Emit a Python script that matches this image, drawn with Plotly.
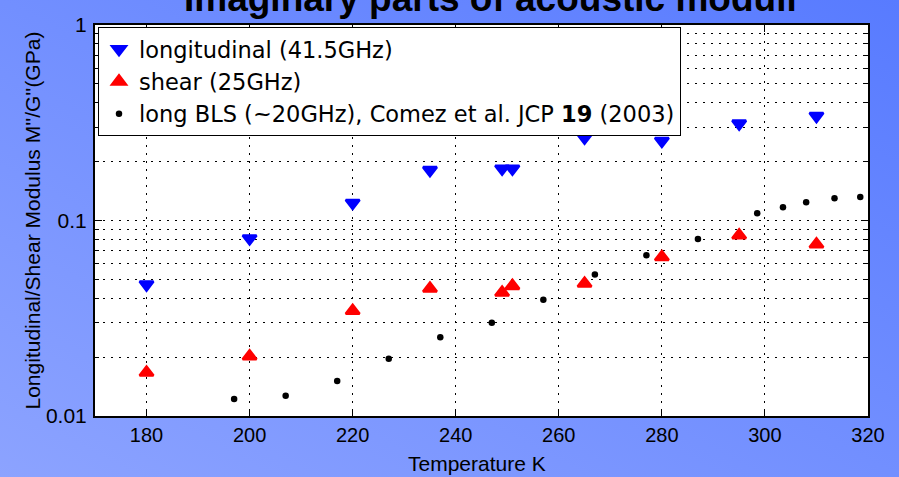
import base64
import plotly.graph_objects as go

# ---- data ----
T_long = [180, 200, 220, 235, 249, 251, 265, 280, 295, 310]
M_long = [0.047, 0.081, 0.123, 0.181, 0.184, 0.184, 0.265, 0.255, 0.313, 0.342]

T_shear = [180, 200, 220, 235, 249, 251, 265, 280, 295, 310]
G_shear = [0.0167, 0.0202, 0.0345, 0.0449, 0.0428, 0.0463, 0.0476, 0.065, 0.084, 0.0756]

T_bls = [197, 207, 217, 227, 237, 247, 257, 267, 277, 287, 298.5, 303.5, 308, 313.5, 318.5]
M_bls = [0.0122, 0.0127, 0.0151, 0.0196, 0.0253, 0.0300, 0.0393, 0.053, 0.0664, 0.0805,
         0.109, 0.117, 0.124, 0.130, 0.132]

x_ticks = [180, 200, 220, 240, 260, 280, 300, 320]
y_ticks = [0.01, 0.1, 1]
y_ticktext = ["0.01", "0.1", "1"]
y_minor = [0.02, 0.03, 0.04, 0.05, 0.06, 0.07, 0.08, 0.09,
           0.2, 0.3, 0.4, 0.5, 0.6, 0.7, 0.8, 0.9]

W, H = 899, 477
ML, MR, MT, MB = 95, 31, 25, 61
PW, PH = W - ML - MR, H - MT - MB

FONT = "Liberation Sans, Arial, sans-serif"

fig = go.Figure()
fig.add_trace(go.Scatter(
    x=T_long, y=M_long, mode="markers", name="longitudinal (41.5GHz)",
    marker=dict(symbol="triangle-down", size=12, color="#0000ff",
                line=dict(color="#0000ff", width=2.5))))
fig.add_trace(go.Scatter(
    x=T_shear, y=G_shear, mode="markers", name="shear (25GHz)",
    marker=dict(symbol="triangle-up", size=12, color="#ff0000",
                line=dict(color="#ff0000", width=2.5))))
fig.add_trace(go.Scatter(
    x=T_bls, y=M_bls, mode="markers",
    name="long BLS (~20GHz), Comez et al. JCP <b>19</b> (2003)",
    marker=dict(symbol="circle", size=6.5, color="#000000")))

# gradient slide background as an inline SVG image
svg = ('<svg xmlns="http://www.w3.org/2000/svg" width="899" height="477" '
       'preserveAspectRatio="none" viewBox="0 0 899 477">'
       '<defs><linearGradient id="g" x1="0" y1="1" x2="1" y2="0">'
       '<stop offset="0" stop-color="#8ca3ff"/>'
       '<stop offset="1" stop-color="#587bff"/>'
       '</linearGradient></defs>'
       '<rect width="899" height="477" fill="url(#g)"/></svg>')
src = "data:image/svg+xml;base64," + base64.b64encode(svg.encode()).decode()

grid_dash = "2px,6px"

fig.update_layout(
    width=W, height=H,
    margin=dict(l=ML, r=MR, t=MT, b=MB, pad=0),
    paper_bgcolor="#7390fe",
    plot_bgcolor="white",
    font=dict(family=FONT, size=20, color="black"),
    showlegend=True,
    legend=dict(x=3 / PW, y=1 - 2 / PH, xanchor="left", yanchor="top",
                bgcolor="white", bordercolor="black", borderwidth=1,
                font=dict(family="DejaVu Sans, sans-serif", size=22.5, color="black"),
                itemsizing="trace"),
    images=[dict(source=src, xref="paper", yref="paper",
                 x=-ML / PW, y=(PH + MT) / PH, sizex=W / PW, sizey=H / PH,
                 xanchor="left", yanchor="top", sizing="stretch", layer="below")],
    shapes=[dict(type="rect", xref="paper", yref="paper", x0=0, x1=1, y0=0, y1=1,
                 fillcolor="white", line=dict(width=0), layer="below")],
    annotations=[
        dict(text="<b>Imaginary parts of acoustic moduli</b>", xref="paper", yref="paper",
             x=(490 - ML) / PW, y=1 + 27 / PH, xanchor="center", yanchor="middle",
             showarrow=False, font=dict(family=FONT, size=37, color="black")),
        dict(text="Longitudinal/Shear Modulus M''/G''(GPa)", xref="paper", yref="paper",
             x=(32 - ML) / PW, y=0.5, xanchor="center", yanchor="middle",
             textangle=-90, showarrow=False, font=dict(family=FONT, size=21, color="black")),
        dict(text="Temperature K", xref="paper", yref="paper",
             x=(477 - ML) / PW, y=-(464 - (MT + PH)) / PH, xanchor="center", yanchor="middle",
             showarrow=False, font=dict(family=FONT, size=21, color="black")),
    ],
)

fig.update_xaxes(
    range=[170, 320], tickmode="array", tickvals=x_ticks,
    ticks="inside", ticklen=7, tickwidth=1, tickcolor="black",
    showline=True, linecolor="black", linewidth=2, mirror="allticks",
    showgrid=True, gridcolor="black", gridwidth=1, griddash=grid_dash,
    zeroline=False, tickfont=dict(family=FONT, size=20, color="black"),
)
fig.update_yaxes(
    type="log", range=[-2, 0], tickmode="array", tickvals=y_ticks, ticktext=y_ticktext,
    ticks="inside", ticklen=7, tickwidth=1, tickcolor="black",
    showline=True, linecolor="black", linewidth=2, mirror="allticks",
    showgrid=True, gridcolor="black", gridwidth=1, griddash=grid_dash,
    zeroline=False, tickfont=dict(family=FONT, size=21, color="black"),
    ticklabelstandoff=2,
    minor=dict(tickmode="array", tickvals=y_minor, ticks="inside", ticklen=4,
               tickcolor="black", showgrid=True, gridcolor="black", gridwidth=1,
               griddash=grid_dash),
)

fig.write_html("out.html")
